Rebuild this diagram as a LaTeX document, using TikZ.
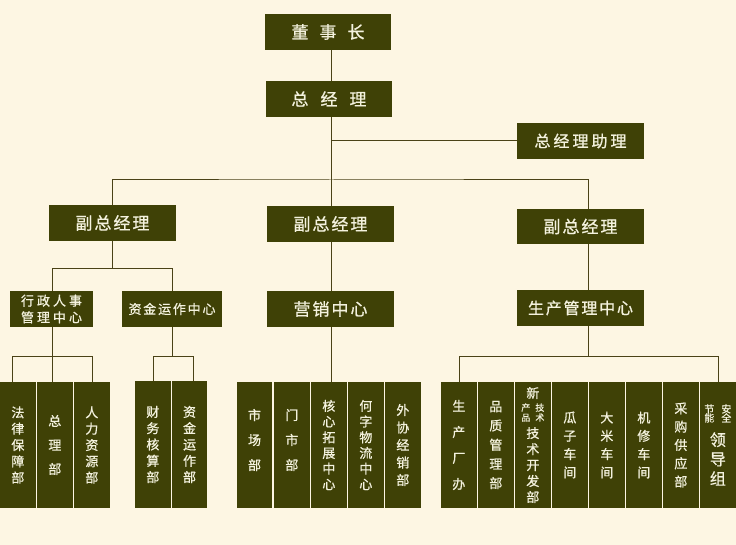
\documentclass[tikz,border=0pt]{standalone}
\usepackage{fontspec}
\newfontfamily\cjk[FakeBold=0.8]{Noto Sans CJK SC}
\definecolor{bg}{HTML}{FDF6E3}
\definecolor{boxc}{HTML}{3F4106}
\definecolor{linec}{HTML}{4A4217}
\definecolor{txt}{HTML}{F4F2DE}
\newcommand\vf[2]{\fontsize{#1}{#2}\selectfont}
\tikzset{
  box/.style={fill=boxc,text=txt,inner sep=0pt,minimum width=127pt,minimum height=36pt,font=\cjk\vf{17}{20}},
  vbox/.style={fill=boxc,text=txt,inner sep=0pt,minimum width=35.7pt,minimum height=126.6pt,align=center},
  conn/.style={draw=linec,line width=1pt},
}
\begin{document}
\begin{tikzpicture}[x=1pt,y=-1pt]
\fill[bg] (0,0) rectangle (736,545);
\useasboundingbox (0,0) rectangle (736,545);

% top levels
\node[box,minimum width=126pt] (dsz) at (328,32) {董\kern11pt 事\kern11pt 长};
\node[box,minimum width=126pt] (zjl) at (329,99) {总\kern12pt 经\kern12pt 理};
\node[box,font=\cjk\vf{16}{19}] (zl) at (580.5,141) {总\kern3pt 经\kern3pt 理\kern3pt 助\kern3pt 理};
\node[box] (fzL) at (112.5,223) {副\kern2pt 总\kern2pt 经\kern2pt 理};
\node[box] (fzM) at (330.5,224) {副\kern2pt 总\kern2pt 经\kern2pt 理};
\node[box,minimum height=35pt] (fzR) at (580.5,226.5) {副\kern2pt 总\kern2pt 经\kern2pt 理};

% centres
\node[box,minimum width=83pt,align=center,font=\cjk\vf{13}{16.6}] (xz) at (51.5,309) {行\kern3pt 政\kern3pt 人\kern3pt 事\\管\kern3pt 理\kern3pt 中\kern3pt 心};
\node[box,minimum width=100pt,font=\cjk\vf{13}{16}] (zj) at (172,309) {资\kern1.8pt 金\kern1.8pt 运\kern1.8pt 作\kern1.8pt 中\kern1.8pt 心};
\node[box] (yx) at (330.5,309) {营\kern2pt 销\kern2pt 中\kern2pt 心};
\node[box,font=\cjk\vf{16}{19}] (sc) at (580.5,308) {生\kern1.8pt 产\kern1.8pt 管\kern1.8pt 理\kern1.8pt 中\kern1.8pt 心};

% bottom departments
\node[vbox,font=\cjk\vf{13}{16.3}] (b1) at (17.85,445) {法\\律\\保\\障\\部};
\node[vbox,font=\cjk\vf{13}{24}] (b2) at (54.85,445) {总\\理\\部};
\node[vbox,font=\cjk\vf{13}{16.3}] (b3) at (91.85,445) {人\\力\\资\\源\\部};
\node[vbox,font=\cjk\vf{13}{16.3}] (b4) at (152.85,444.5) {财\\务\\核\\算\\部};
\node[vbox,font=\cjk\vf{13}{16.3}] (b5) at (189.55,444.5) {资\\金\\运\\作\\部};

\node[vbox,font=\cjk\vf{13}{25}] (m1) at (254.55,445) {市\\场\\部\\[-14pt]};
\node[vbox,font=\cjk\vf{13}{25}] (m2) at (291.85,445) {门\\市\\部\\[-14pt]};
\node[vbox,font=\cjk\vf{13}{15.7}] (m3) at (328.85,445) {核\\心\\拓\\展\\中\\心};
\node[vbox,font=\cjk\vf{13}{15.7}] (m4) at (365.85,445) {何\\字\\物\\流\\中\\心};
\node[vbox,font=\cjk\vf{13}{17.5}] (m5) at (402.85,445) {外\\协\\经\\销\\部};

\node[vbox,font=\cjk\vf{13}{26}] (r1) at (458.85,445) {生\\产\\厂\\办};
\node[vbox,font=\cjk\vf{13}{19.2}] (r2) at (495.85,445) {品\\质\\管\\理\\部};
\node[vbox,font=\cjk\vf{13}{16}] (r3) at (532.85,445) {新\\[-3pt]{\vf{9}{9}产\kern5pt 技}\\[-6pt]{\vf{9}{9}品\kern5pt 术}\\[1pt]技\\术\\开\\发\\部};
\node[vbox,font=\cjk\vf{13}{18.3}] (r4) at (569.85,445) {瓜\\子\\车\\间};
\node[vbox,font=\cjk\vf{13}{18.3}] (r5) at (606.85,445) {大\\米\\车\\间};
\node[vbox,font=\cjk\vf{13}{18.3}] (r6) at (643.85,445) {机\\修\\车\\间};
\node[vbox,font=\cjk\vf{13}{18.3}] (r7) at (680.85,445) {采\\购\\供\\应\\部};
\node[vbox,font=\cjk\vf{16}{19.5}] (r8) at (717.85,445) {{\vf{10}{10}节\kern7pt 安}\\[-10.5pt]{\vf{10}{10}能\kern7pt 全}\\[4.5pt]领\\导\\组};

% connector coordinates
\coordinate (spine) at (331.3,0);
\coordinate (rx) at (588.3,0);
\coordinate (asst) at (331.3,140.3);
\coordinate (busT) at (331.3,180);
\coordinate (lb) at (112,268.3);
\coordinate (x1) at (12.7,356);
\coordinate (x2) at (52.3,356);
\coordinate (x3) at (92.3,356);
\coordinate (z1) at (153.3,356);
\coordinate (z2) at (193.3,356);
\coordinate (rL) at (459.3,356);
\coordinate (rR) at (718.3,356);
\coordinate (rM) at (588.3,356);

% connectors
\draw[conn] (dsz.south -| spine) -- (zjl.north -| spine);
\draw[conn] (zjl.south -| spine) -- (busT);
\draw[conn] (asst) -- (zl.west |- asst);
\draw[conn] (fzL.north -| lb) |- (busT) -| (fzR.north -| rx);
\draw[conn] (busT) -- (fzM.north -| spine);

\draw[conn] (fzL.south -| lb) -- (lb);
\draw[conn] (xz.north -| x2) |- (lb) -| (zj.north);
\draw[conn] (xz.south -| x2) -- (x2);
\draw[conn] (b1.north -| x1) -- (x1) -- (x3) -- (b3.north -| x3);
\draw[conn] (x2) -- (b2.north -| x2);
\draw[conn] (zj.south) -- (zj.south |- z1);
\draw[conn] (b4.north -| z1) -- (z1) -- (z2) -- (b5.north -| z2);

\draw[conn] (fzM.south -| spine) -- (yx.north -| spine);
\draw[conn] (yx.south -| spine) -- (m3.north -| spine);

\draw[conn] (fzR.south -| rx) -- (sc.north -| rx);
\draw[conn] (sc.south -| rx) -- (rM);
\draw[conn] (r1.north -| rL) -- (rL) -- (rR) -- (r8.north -| rR);
\end{tikzpicture}
\end{document}
